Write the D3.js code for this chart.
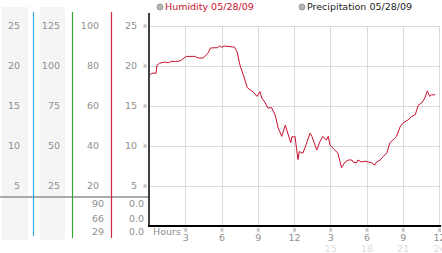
<!DOCTYPE html>
<html>
<head>
<meta charset="utf-8">
<script src="https://cdn.jsdelivr.net/npm/d3@7"></script>
<style>
  body { margin: 0; background: #fff; }
  svg { display: block; }
</style>
</head>
<body>
<svg id="chart"></svg>
<script>
// humidity readings (hour of day, value)
const hours = [0, 0.15, 0.5, 0.58, 0.8, 1.2, 1.5, 1.8, 2.1, 2.5,
  3.0, 3.7, 4.0, 4.4, 4.8, 5.0, 5.6, 5.75, 5.9, 6.2,
  7.0, 7.2, 7.45, 7.8, 8.05, 8.3, 8.55, 8.85, 9.1, 9.25,
  9.5, 9.75, 10.05, 10.35, 10.6, 10.9, 11.2, 11.4, 11.65, 11.75,
  11.85, 12.0, 12.15, 12.25, 12.35, 12.65, 12.85, 13.25, 13.4, 13.8,
  14.05, 14.3, 14.6, 14.75, 14.9, 15.3, 15.55, 15.85, 16.15, 16.4,
  16.7, 16.8, 17.1, 17.2, 17.5, 17.8, 18.05, 18.35, 18.6, 18.75,
  19.05, 19.3, 19.6, 19.85, 20.1, 20.4, 20.7, 20.95, 21.35, 21.65,
  21.95, 22.2, 22.5, 22.75, 22.95, 23.15, 23.3, 23.6];
const humidity = [18.85, 19.1, 19.1, 20.1, 20.35, 20.5, 20.4, 20.6, 20.55, 20.65,
  21.2, 21.2, 21.0, 21.0, 21.6, 22.25, 22.3, 22.5, 22.35, 22.5,
  22.35, 21.8, 20.1, 18.5, 17.3, 17.0, 16.75, 16.2, 16.8, 16.0,
  15.5, 14.75, 14.8, 13.9, 12.3, 11.2, 12.6, 11.6, 10.4, 11.2,
  11.1, 11.2, 9.4, 8.3, 9.3, 9.1, 9.9, 11.6, 11.2, 9.5,
  10.5, 11.2, 10.75, 11.2, 10.1, 9.5, 9.1, 7.3, 8.0, 8.25,
  8.25, 8.0, 7.9, 8.25, 8.0, 8.1, 8.0, 7.9, 7.6, 8.0,
  8.25, 8.7, 9.1, 10.4, 10.75, 11.2, 12.4, 12.9, 13.25, 13.7,
  13.9, 15.1, 15.4, 16.0, 16.9, 16.2, 16.4, 16.4];

// left side scale columns
const yTicks = [25, 20, 15, 10, 5];
const col1Labels = ["25", "20", "15", "10", "5"];
const col2Labels = ["125", "100", "75", "50", "25"];
const col3Labels = ["100", "80", "60", "40", "20"];
const col4Labels = ["25", "20", "15", "10", "5"];
const bottomCol3 = ["90", "66", "29"];
const bottomCol4 = ["0.0", "0.0", "0.0"];

// hour axis
const hourTicks = [3, 6, 9, 12, 15, 18, 21, 24];
const hourLabels = ["3", "6", "9", "12", "3", "6", "9", "12"];
const hour24Ticks = [15, 18, 21, 24];
const hour24Labels = ["15", "18", "21", "24"];

const legendItems = ["Humidity 05/28/09", "Precipitation 05/28/09"];

const width = 442, height = 253;
const font = "Verdana, 'DejaVu Sans', sans-serif";
const grey = "#8f8f8f";
const red = "#c8102e";

const svg = d3.select("#chart")
    .attr("width", width)
    .attr("height", height)
    .style("font-family", font);

const x = d3.scaleLinear().domain([0, 24]).range([150, 440]);
const y = d3.scaleLinear().domain([0, 25]).range([226, 26]);

// left panel stripes
svg.append("rect").attr("x", 2).attr("y", 7).attr("width", 26).attr("height", 233).attr("fill", "#f5f5f5");
svg.append("rect").attr("x", 40).attr("y", 7).attr("width", 25).attr("height", 233).attr("fill", "#f5f5f5");

// gray separator
svg.append("line")
    .attr("x1", 0).attr("x2", 149)
    .attr("y1", 197).attr("y2", 197)
    .attr("stroke", "#aaa").attr("stroke-width", 2);

// coloured column rules
const rules = [
  { x: 33.5, y2: 236, color: "#36a8e6" },
  { x: 72.5, y2: 238, color: "#33aa33" },
  { x: 111.5, y2: 238, color: "#d0283c" },
];
svg.selectAll("line.rule")
  .data(rules)
  .join("line")
    .attr("class", "rule")
    .attr("x1", d => d.x).attr("x2", d => d.x)
    .attr("y1", 12).attr("y2", d => d.y2)
    .attr("stroke", d => d.color).attr("stroke-width", 1.2);

// column labels
function column(labels, rightX) {
  svg.append("g")
      .selectAll("text")
      .data(labels)
      .join("text")
        .attr("x", rightX)
        .attr("y", (d, i) => y(yTicks[i]))
        .attr("dy", "0.35em")
        .attr("text-anchor", "end")
        .attr("fill", grey)
        .style("font-size", "9.5px")
        .text(d => d);
}
column(col1Labels, 20);
column(col2Labels, 60);
column(col3Labels, 99);
column(col4Labels, 137);

const bottomY = [204, 218.5, 232];
function bottomColumn(labels, rightX) {
  svg.append("g")
      .selectAll("text")
      .data(labels)
      .join("text")
        .attr("x", rightX)
        .attr("y", (d, i) => bottomY[i])
        .attr("dy", "0.35em")
        .attr("text-anchor", "end")
        .attr("fill", grey)
        .style("font-size", "9.5px")
        .text(d => d);
}
bottomColumn(bottomCol3, 104);
bottomColumn(bottomCol4, 144);

// grid
svg.append("g")
    .selectAll("line")
    .data(yTicks)
    .join("line")
      .attr("x1", x(0)).attr("x2", x(24))
      .attr("y1", d => Math.round(y(d)) + 0.5).attr("y2", d => Math.round(y(d)) + 0.5)
      .attr("stroke", "#dadada");

svg.append("g")
    .selectAll("line")
    .data(hourTicks)
    .join("line")
      .attr("x1", d => Math.round(x(d)) - 0.5).attr("x2", d => Math.round(x(d)) - 0.5)
      .attr("y1", y(25)).attr("y2", y(0))
      .attr("stroke", "#dadada");

// tiny tick marks (small crossed glyph)
const markPath = "M-1.5,-2L1.5,0.5M1.5,-2L-1.5,0.5M-1.5,-0.5L1.5,2M1.5,-0.5L-1.5,2";
svg.append("g")
    .selectAll("path")
    .data(yTicks)
    .join("path")
      .attr("transform", d => `translate(145, ${y(d)})`)
      .attr("d", markPath)
      .attr("fill", "none")
      .attr("stroke", "#aaa")
      .attr("stroke-width", 0.7);

svg.append("g")
    .selectAll("path")
    .data(hourTicks)
    .join("path")
      .attr("transform", d => `translate(${x(d) - 0.5}, 230)`)
      .attr("d", markPath)
      .attr("fill", "none")
      .attr("stroke", "#aaa")
      .attr("stroke-width", 0.7);

// hour labels
svg.append("g")
    .selectAll("text")
    .data(hourLabels)
    .join("text")
      .attr("x", (d, i) => x(hourTicks[i]) - 0.5)
      .attr("y", 238)
      .attr("dy", "0.35em")
      .attr("text-anchor", "middle")
      .attr("fill", grey)
      .style("font-size", "9.5px")
      .text(d => d);

svg.append("g")
    .selectAll("text")
    .data(hour24Labels)
    .join("text")
      .attr("x", (d, i) => x(hour24Ticks[i]) - 0.5)
      .attr("y", 248.5)
      .attr("dy", "0.35em")
      .attr("text-anchor", "middle")
      .attr("fill", "#dcdcdc")
      .style("font-size", "9.5px")
      .text(d => d);

svg.append("text")
    .attr("x", 153)
    .attr("y", 232)
    .attr("dy", "0.35em")
    .attr("fill", grey)
    .style("font-size", "9.5px")
    .text("Hours");

// humidity line
const points = hours.map((h, i) => [h, humidity[i]]);
const line = d3.line()
    .x(d => x(d[0]))
    .y(d => y(d[1]));

svg.append("path")
    .attr("fill", "none")
    .attr("stroke", red)
    .attr("stroke-width", 1)
    .attr("d", line(points));

// axes
svg.append("line")
    .attr("x1", 149).attr("x2", 149)
    .attr("y1", 13).attr("y2", 227)
    .attr("stroke", "#000").attr("stroke-width", 1.5);
svg.append("line")
    .attr("x1", 148).attr("x2", 441)
    .attr("y1", 226).attr("y2", 226)
    .attr("stroke", "#000").attr("stroke-width", 2);

// legend
const legendX = [160, 302];
const legendColors = [red, "#222"];
const legend = svg.append("g")
    .selectAll("g")
    .data(legendItems)
    .join("g")
      .attr("transform", (d, i) => `translate(${legendX[i]}, 7)`);
legend.append("circle")
    .attr("r", 3)
    .attr("fill", "#b5b5b5")
    .attr("stroke", "#999");
legend.append("text")
    .attr("x", 5)
    .attr("dy", "0.35em")
    .attr("fill", (d, i) => legendColors[i])
    .style("font-size", "9.5px")
    .text(d => d);
</script>
</body>
</html>
